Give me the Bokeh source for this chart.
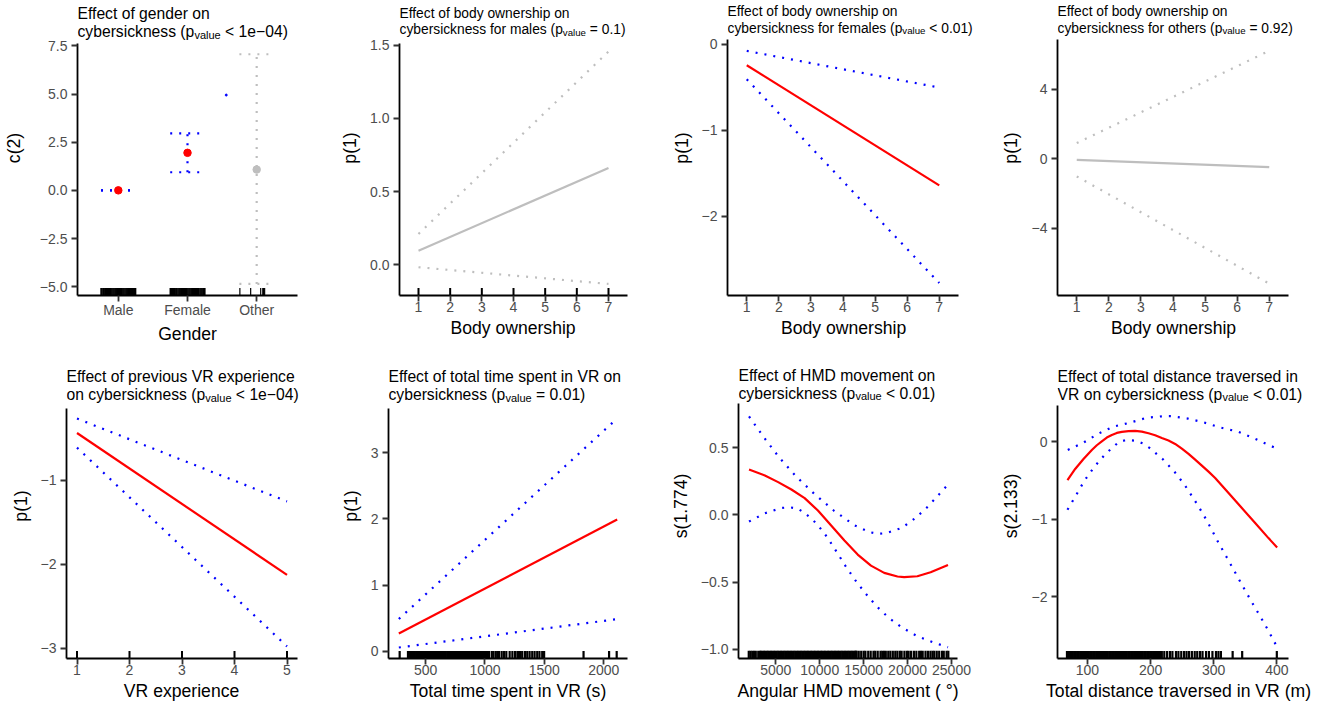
from bokeh.plotting import figure
from bokeh.models import Range1d, FixedTicker, Label
from bokeh.layouts import row, column
from bokeh.embed import file_html
from bokeh.resources import INLINE

# ---------------- data ----------------
gender_levels = ["Male", "Female", "Other"]
gender_est = [0.0, 1.95, 1.08]
gender_lower = [0.0, 0.94, -4.86]
gender_upper = [0.0, 2.96, 7.07]
gender_significant = [True, True, False]
gender_yticks = [-5, -2.5, 0, 2.5, 5, 7.5]
gender_ytick_labels = ["−5.0", "−2.5", "0.0", "2.5", "5.0", "7.5"]
gender_rug_male = [-0.249, -0.236, -0.218, -0.205, -0.187, -0.171, -0.158, -0.140, -0.126, -0.109,
                   -0.093, -0.077, -0.062, -0.046, -0.031, -0.014, 0.003, 0.018, 0.034, 0.049,
                   0.066, 0.081, 0.097, 0.113, 0.128, 0.145, 0.160, 0.176, 0.193, 0.207, 0.224,
                   0.238, 0.249]
gender_rug_female = [-0.248, -0.232, -0.219, -0.201, -0.185, -0.168, -0.154, -0.137, -0.121, -0.106,
                     -0.090, -0.072, -0.058, -0.041, -0.027, -0.010, 0.006, 0.022, 0.037, 0.053,
                     0.070, 0.085, 0.101, 0.116, 0.133, 0.149, 0.163, 0.181, 0.196, 0.211, 0.228,
                     0.241, 0.250]
gender_rug_other = [-0.243, -0.087, 0.058, 0.088, 0.100, 0.115]
gender_stray_x = [2.56]
gender_stray_y = [4.95]

bo_ticks = [1, 2, 3, 4, 5, 6, 7]
bo_x = [1, 7]
males_fit = [0.097, 0.661]
males_upper = [0.211, 1.456]
males_lower = [-0.016, -0.130]
males_yticks = [0, 0.5, 1, 1.5]
males_ytick_labels = ["0.0", "0.5", "1.0", "1.5"]
males_rug = [1, 2, 3, 4, 5, 6, 7]

females_fit = [-0.242, -1.642]
females_upper = [-0.075, -0.502]
females_lower = [-0.405, -2.780]
females_yticks = [-2, -1, 0]
females_ytick_labels = ["−2", "−1", "0"]

others_fit = [-0.06, -0.48]
others_upper = [0.90, 6.22]
others_lower = [-1.02, -7.20]
others_yticks = [-4, 0, 4]
others_ytick_labels = ["−4", "0", "4"]

vr_ticks = [1, 2, 3, 4, 5]
vr_x = [1, 5]
vr_fit = [-0.435, -2.127]
vr_upper = [-0.263, -1.251]
vr_lower = [-0.609, -2.980]
vr_yticks = [-3, -2, -1]
vr_ytick_labels = ["−3", "−2", "−1"]
vr_rug = [1, 2, 3, 4, 5]

time_ticks = [500, 1000, 1500, 2000]
time_x = [275, 2113]
time_fit = [0.272, 1.990]
time_upper = [0.490, 3.516]
time_lower = [0.060, 0.488]
time_yticks = [0, 1, 2, 3]
time_ytick_labels = ["0", "1", "2", "3"]
time_rug = [282, 352, 361, 373, 382, 390, 401, 410, 422, 431, 440, 452, 463, 471, 480, 492, 503,
            511, 520, 533, 541, 550, 562, 571, 583, 592, 600, 612, 621, 630, 642, 653, 661, 670,
            682, 691, 700, 712, 720, 731, 742, 750, 761, 773, 780, 791, 803, 811, 820, 832, 843,
            851, 860, 872, 881, 890, 902, 913, 921, 930, 942, 951, 960, 972, 981, 990, 1001, 1008,
            1022, 1035, 1058, 1072, 1091, 1105, 1119, 1141, 1161, 1180, 1208, 1231, 1253, 1273,
            1286, 1300, 1314, 1337, 1356, 1376, 1398, 1418, 1440, 1459, 1482, 1498, 1830, 2045, 2109]

hmd_ticks = [5000, 10000, 15000, 20000, 25000]
hmd_fit_x = [1950, 3755, 5264, 6774, 8283, 9792, 11302, 12811, 14321, 15830, 17340, 18849,
             19604, 21113, 22623, 24600]
hmd_fit = [0.337, 0.292, 0.243, 0.188, 0.124, 0.032, -0.079, -0.191, -0.295, -0.377, -0.431,
           -0.458, -0.463, -0.456, -0.426, -0.372]
hmd_up_x = [1950, 3679, 5415, 7340, 9415, 11604, 13943, 15679, 16623, 17566, 19340, 20925,
            22321, 23642, 24600]
hmd_upper = [0.731, 0.572, 0.424, 0.283, 0.154, 0.032, -0.077, -0.129, -0.141, -0.136, -0.097,
             -0.022, 0.062, 0.156, 0.225]
hmd_lo_x = [1950, 3755, 5566, 6509, 7453, 8283, 9679, 10849, 11906, 12925, 14019, 15189, 16472,
            17830, 19377, 21075, 22811, 24600]
hmd_lower = [-0.050, 0.012, 0.050, 0.057, 0.047, 0.015, -0.067, -0.166, -0.273, -0.379, -0.483,
             -0.582, -0.679, -0.763, -0.838, -0.900, -0.944, -0.984]
hmd_yticks = [-1, -0.5, 0, 0.5]
hmd_ytick_labels = ["−1.0", "−0.5", "0.0", "0.5"]
hmd_rug = [1920, 2120, 2320, 2520, 2720, 3000, 3200, 3320, 3480, 3650, 3800, 3970, 4130, 4290,
           4460, 4610, 4780, 4940, 5100, 5270, 5420, 5590, 5750, 5910, 6080, 6230, 6400, 6560,
           6720, 6890, 7040, 7210, 7370, 7530, 7700, 7850, 8020, 8180, 8340, 8510, 8660, 8830,
           8990, 9150, 9320, 9470, 9640, 9800, 9960, 10130, 10280, 10450, 10610, 10770, 10940,
           11090, 11260, 11420, 11580, 11750, 11900, 12070, 12230, 12390, 12560, 12710, 12880,
           13040, 13200, 13370, 13520, 13690, 13850, 14010, 14120, 14200, 14440, 14720, 15000,
           15200, 15520, 15800, 16120, 16320, 16600, 16920, 17120, 17320, 17520, 17800, 18040,
           18320, 18600, 18840, 19120, 19320, 19640, 19920, 20120, 20400, 20720, 21000, 21320,
           21520, 21720, 22040, 22320, 22600, 22840, 23040, 23320, 23600, 23920, 24120, 24440,
           24640]

dist_ticks = [100, 200, 300, 400]
dist_fit_x = [68.3, 80.5, 93.7, 106.9, 114.8, 122.7, 130.6, 138.6, 146.5, 154.4, 165.0, 175.5,
              186.1, 196.7, 207.2, 217.8, 228.4, 238.9, 249.5, 260.1, 270.6, 281.2, 291.8, 302.3,
              323.5, 344.6, 365.7, 386.8, 400.5]
dist_fit = [-0.496, -0.353, -0.224, -0.108, -0.047, 0.004, 0.052, 0.086, 0.112, 0.125, 0.135,
            0.138, 0.129, 0.108, 0.082, 0.047, 0.013, -0.030, -0.091, -0.159, -0.233, -0.310,
            -0.388, -0.470, -0.664, -0.858, -1.052, -1.246, -1.366]
dist_up_x = [68.8, 93.7, 116.4, 141.2, 166.0, 193.0, 219.4, 232.6, 259.0, 284.9, 311.3, 337.7,
             362.0, 386.8, 400.5]
dist_upper = [-0.108, -0.013, 0.099, 0.194, 0.241, 0.306, 0.328, 0.328, 0.297, 0.246, 0.180,
              0.130, 0.050, -0.043, -0.090]
dist_lo_x = [68.3, 81.5, 95.2, 111.1, 128.5, 149.1, 161.3, 174.5, 187.2, 198.3, 218.9, 237.3,
             253.7, 268.5, 282.3, 295.5, 307.6, 320.8, 334.0, 347.2, 360.4, 374.2, 387.4, 400.1]
dist_lower = [-0.879, -0.698, -0.504, -0.323, -0.159, -0.009, 0.022, 0.013, -0.022, -0.082,
              -0.224, -0.384, -0.556, -0.741, -0.922, -1.116, -1.306, -1.496, -1.690, -1.884,
              -2.073, -2.263, -2.453, -2.647]
dist_yticks = [-2, -1, 0]
dist_ytick_labels = ["−2", "−1", "0"]
dist_rug = [67.5, 70, 72.2, 74.5, 76.8, 79, 81.5, 83.7, 86, 88.4, 90.6, 93, 95.3, 97.5, 100,
            102.2, 104.5, 106.9, 109.1, 111.5, 113.8, 116, 118.4, 120.7, 123, 125.3, 127.6, 130,
            132.2, 134.6, 136.9, 139.1, 141.5, 143.8, 146.1, 148.4, 150.7, 153, 155.3, 157.7, 160,
            162.3, 164.6, 166.9, 169.2, 171.5, 173.9, 176.2, 178.5, 180.8, 183.1, 185.4, 187.7,
            190.1, 192.4, 194.7, 197, 199.3, 201.6, 204, 206.3, 208.6, 210.9, 213.2, 215, 217.8,
            221.7, 226.2, 230.7, 234.6, 240.2, 244.1, 248.6, 253.1, 257, 261, 265.4, 269.9, 273.9,
            278.3, 282.3, 287.9, 292.4, 298, 303.6, 307.5, 311.4, 330, 345.1, 400]

# ---------------- style ----------------
FONT = "Liberation Sans"
RED, BLUE, GREY = "#FF0000", "#0000FF", "#BEBEBE"
DOT = "2 7"
TICK_FS = 14
NBSP = "\u00a0"

_AW = {' ': 278, NBSP: 278, '(': 333, ')': 333, '<': 584, '=': 584, '−': 584, '-': 333,
       '.': 278, '°': 400}
for _c in "0123456789":
    _AW[_c] = 556
_AW.update(dict(a=556, b=556, c=500, d=556, e=556, f=278, g=556, h=556, i=222, j=222, k=500,
                l=222, m=833, n=556, o=556, p=556, q=556, r=333, s=500, t=278, u=556, v=500,
                w=722, x=500, y=500, z=500, A=667, B=667, C=722, D=722, E=667, F=611, G=778,
                H=722, I=278, M=833, R=722, S=667, T=611, V=667))


def tw(s, fs):
    return sum(_AW.get(c, 556) for c in s) / 1000.0 * fs


def make_fig(w, h, box, ext, xr, yr, xticks, yticks, ytick_labels, xtitle, ytitle, ylab_standoff,
             xtitle_pad=0, xtick_labels=None):
    # box = (left, right, top, bottom): pixel position of the axis lines inside the figure
    # ext = extra frame width to the right of the x axis (room for the title)
    L, R, T, B = box
    x_end = xr[1] + ext * (xr[1] - xr[0]) / (R - L)
    y_end = yr[1] + T * (yr[1] - yr[0]) / (B - T)
    p = figure(width=w, height=h, x_range=Range1d(xr[0], x_end), y_range=Range1d(yr[0], y_end),
               output_backend="svg", toolbar_location=None, title_location=None, tools="",
               min_border_left=L, min_border_right=w - R - ext, min_border_top=0,
               min_border_bottom=h - B)
    p.outline_line_color = None
    p.grid.visible = False
    for ax, ticks, labels, title, bnd in ((p.xaxis[0], xticks, xtick_labels,
                                           xtitle + NBSP * xtitle_pad, xr),
                                          (p.yaxis[0], yticks, ytick_labels, ytitle, yr)):
        ax.bounds = bnd
        ax.ticker = FixedTicker(ticks=ticks, minor_ticks=[])
        if labels is not None:
            ax.major_label_overrides = dict(zip(ticks, labels))
        ax.axis_label = title
        ax.axis_label_text_font = FONT
        ax.axis_label_text_font_size = "17.6px"
        ax.axis_label_text_font_style = "normal"
        ax.axis_label_text_color = "black"
        ax.major_label_text_font = FONT
        ax.major_label_text_font_size = f"{TICK_FS}px"
        ax.major_label_text_color = "#4D4D4D"
        ax.axis_line_color = "black"
        ax.axis_line_width = 1.8
        ax.major_tick_line_color = "#333333"
        ax.major_tick_line_width = 1.8
        ax.major_tick_in = 0
        ax.major_tick_out = 6
        ax.minor_tick_line_color = None
    xa, ya = p.xaxis[0], p.yaxis[0]
    xa.major_label_standoff = 0
    xa.axis_label_standoff = 3
    xa.major_label_text_line_height = 1.0
    xa.axis_label_text_line_height = 1.0
    ya.major_label_standoff = 4
    ya.axis_label_standoff = ylab_standoff
    return p


def add_title(p, xr, yr, line1, pre, post, fs, up1, up2):
    sub_fs = round(fs * 0.7, 1)
    post = NBSP + post.lstrip(" ")
    up1 += 4.5
    up2 += 4.5
    common = dict(x=xr[0], y=yr[1], x_units="data", y_units="data", text_font=FONT,
                  text_color="black", text_baseline="alphabetic", text_align="left")
    p.add_layout(Label(y_offset=up1, text=line1, text_font_size=f"{fs}px", **common))
    p.add_layout(Label(y_offset=up2, text=pre, text_font_size=f"{fs}px", **common))
    x1 = tw(pre, fs)
    p.add_layout(Label(x_offset=x1, y_offset=up2 - 0.18 * fs, text="value",
                       text_font_size=f"{sub_fs}px", **common))
    x2 = x1 + tw("value", sub_fs)
    p.add_layout(Label(x_offset=x2, y_offset=up2, text=post, text_font_size=f"{fs}px", **common))


def add_rug(p, values, yr, width=2.2):
    y0 = yr[0]
    y1 = yr[0] + 0.03 * (yr[1] - yr[0])
    p.segment(x0=values, y0=[y0] * len(values), x1=values, y1=[y1] * len(values),
              line_color="black", line_width=width)


def add_band(p, x, fit, lo, up, sig, xs_lo=None, xs_up=None):
    c_fit = RED if sig else GREY
    c_ci = BLUE if sig else GREY
    p.line(xs_up if xs_up is not None else x, up, line_color=c_ci, line_width=2.2, line_dash=DOT)
    p.line(xs_lo if xs_lo is not None else x, lo, line_color=c_ci, line_width=2.2, line_dash=DOT)
    p.line(x, fit, line_color=c_fit, line_width=2.2)


H1, H2 = 353, 353

# ---------------- panel 1: gender ----------------
xr1, yr1 = (0.41, 3.59), (-5.46, 7.65)
p1 = make_fig(330, H1, (77, 297, 43, 298), 0, xr1, yr1, [1, 2, 3], gender_yticks,
              gender_ytick_labels, "Gender", "c(2)", 13, xtick_labels=gender_levels)
for i, lev in enumerate(gender_levels):
    xc = i + 1
    col = BLUE if gender_significant[i] else GREY
    if gender_upper[i] != gender_lower[i]:
        p1.line([xc, xc], [gender_lower[i], gender_upper[i]], line_color=col, line_width=2.2,
                line_dash=DOT)
    for yv in (gender_lower[i], gender_upper[i]):
        p1.line([xc - 0.25, xc + 0.25], [yv, yv], line_color=col, line_width=2.2, line_dash=DOT)
p1.scatter([i + 1 for i in range(3)], gender_est, size=7.5,
           color=[RED if s else GREY for s in gender_significant])
p1.scatter(gender_stray_x, gender_stray_y, size=2, color=BLUE)
add_rug(p1, [1 + v for v in gender_rug_male], yr1, 1.6)
add_rug(p1, [2 + v for v in gender_rug_female], yr1, 1.6)
add_rug(p1, [3 + v for v in gender_rug_other], yr1, 1.2)
add_title(p1, xr1, yr1, "Effect of gender on", "cybersickness (p", " < 1e−04)", 15.7, 25, 6.6)

# ---------------- panel 2: males ----------------
xr2, yr2 = (0.4, 7.6), (-0.209, 1.511)
p2 = make_fig(330, H1, (69, 297, 43, 295), 4, xr2, yr2, bo_ticks, males_yticks,
              males_ytick_labels, "Body ownership", "p(1)", 7, xtitle_pad=1)
add_band(p2, bo_x, males_fit, males_lower, males_upper, False)
add_rug(p2, males_rug, yr2, 2)
add_title(p2, xr2, yr2, "Effect of body ownership on", "cybersickness for males (p", " = 0.1)",
          13.8, 26, 9.4)

# ---------------- panel 3: females ----------------
xr3, yr3 = (0.4, 7.6), (-2.925, 0.058)
p3 = make_fig(330, H1, (67, 298, 39, 295), 16, xr3, yr3, bo_ticks, females_yticks,
              females_ytick_labels, "Body ownership", "p(1)", 7, xtitle_pad=3)
add_band(p3, bo_x, females_fit, females_lower, females_upper, True)
add_title(p3, xr3, yr3, "Effect of body ownership on", "cybersickness for females (p", " < 0.01)",
          13.8, 23.3, 6.6)

# ---------------- panel 4: others ----------------
xr4, yr4 = (0.4, 7.6), (-7.88, 6.87)
p4 = make_fig(328, H1, (67, 298, 39, 295), 6, xr4, yr4, bo_ticks, others_yticks,
              others_ytick_labels, "Body ownership", "p(1)", 8, xtitle_pad=1)
add_band(p4, bo_x, others_fit, others_lower, others_upper, False)
add_title(p4, xr4, yr4, "Effect of body ownership on", "cybersickness for others (p", " = 0.92)",
          13.8, 23.3, 6.6)

# ---------------- panel 5: VR experience ----------------
xr5, yr5 = (0.8, 5.2), (-3.124, -0.143)
p5 = make_fig(330, H2, (66, 297, 55, 305), 4, xr5, yr5, vr_ticks, vr_yticks, vr_ytick_labels,
              "VR experience", "p(1)", 7, xtitle_pad=1)
add_band(p5, vr_x, vr_fit, vr_lower, vr_upper, True)
add_rug(p5, vr_rug, yr5, 2)
add_title(p5, xr5, yr5, "Effect of previous VR experience", "on cybersickness (p", " < 1e−04)",
          15.7, 27.6, 9.3)

# ---------------- panel 6: time ----------------
xr6, yr6 = (188, 2200), (-0.106, 3.666)
p6 = make_fig(330, H2, (58, 297, 55, 305), 0, xr6, yr6, time_ticks, time_yticks,
              time_ytick_labels, "Total time spent in VR (s)", "p(1)", 7)
add_rug(p6, time_rug, yr6)
add_band(p6, time_x, time_fit, time_lower, time_upper, True)
add_title(p6, xr6, yr6, "Effect of total time spent in VR on", "cybersickness (p", " = 0.01)",
          15.7, 27.6, 9.3)

# ---------------- panel 7: HMD ----------------
xr7, yr7 = (752, 25683), (-1.067, 0.827)
p7 = make_fig(330, H2, (78, 297, 50, 305), 0, xr7, yr7, hmd_ticks, hmd_yticks, hmd_ytick_labels,
              "Angular HMD movement ( °)", "s(1.774)", 7)
add_rug(p7, hmd_rug, yr7)
add_band(p7, hmd_fit_x, hmd_fit, hmd_lower, hmd_upper, True, xs_lo=hmd_lo_x, xs_up=hmd_up_x)
add_title(p7, xr7, yr7, "Effect of HMD movement on", "cybersickness (p", " < 0.01)",
          15.7, 23.3, 5.6)

# ---------------- panel 8: distance ----------------
xr8, yr8 = (52.5, 418.5), (-2.80, 0.466)
p8 = make_fig(328, H2, (67, 298, 52, 305), 16, xr8, yr8, dist_ticks, dist_yticks,
              dist_ytick_labels, "Total distance traversed in VR (m)", "s(2.133)", 8,
              xtitle_pad=1)
add_rug(p8, dist_rug, yr8)
add_band(p8, dist_fit_x, dist_fit, dist_lower, dist_upper, True, xs_lo=dist_lo_x, xs_up=dist_up_x)
add_title(p8, xr8, yr8, "Effect of total distance traversed in", "VR on cybersickness (p",
          " < 0.01)", 15.7, 24.3, 6.7)

layout = column(row(p1, p2, p3, p4), row(p5, p6, p7, p8))
open("out.html", "w").write(file_html(layout, INLINE))
